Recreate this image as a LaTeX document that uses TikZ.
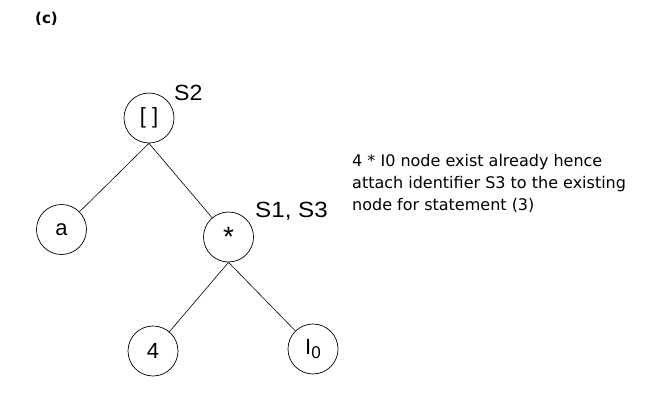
\documentclass[tikz,border=0pt]{standalone}
\usepackage{fontspec}
\setmainfont{Liberation Sans}
\newfontfamily\verd{DejaVu Sans}
\begin{document}
\begin{tikzpicture}[x=1pt,y=-1pt,
  tnode/.style={circle,draw,line width=0.7pt,minimum size=50pt,inner sep=0pt,font=\fontsize{22}{26}\selectfont},
  lbl/.style={anchor=base west,inner sep=0pt,font=\fontsize{22}{26}\selectfont},
  edge/.style={line width=0.6pt}]
\useasboundingbox (0,0) rectangle (650,401);
\node[anchor=base west,inner sep=0pt,font=\verd\bfseries\fontsize{15}{18}\selectfont] (cap) at (35,24) {(c)};
\node[tnode] (br) at (149,118) {[ ]};
\node[tnode] (a) at (61.5,229.5) {a};
\node[tnode,font=\fontsize{28}{30}\selectfont] (mul) at (228.5,237) {\raisebox{-5pt}{*}};
\node[tnode] (four) at (153,351) {4};
\node[tnode] (i0) at (313,349) {I\raisebox{-4pt}{\fontsize{17}{20}\selectfont 0}};
\node[lbl] (s2) at (174,101) {\scalebox{1.05}[1]{S2}};
\node[lbl] (s13) at (255,217) {\scalebox{1.1}[1]{S1, S3}};
\node[anchor=base west,inner sep=0pt,align=left,font=\verd\fontsize{16}{22}\selectfont] (note) at (352,210.7)
  {4 * I0 node exist already hence\\attach identifier S3 to the existing\\node for statement (3)};
\draw[edge] (br.south) -- (a);
\draw[edge] (br.south) -- (mul);
\draw[edge] (mul.south) -- (four);
\draw[edge] (mul.south) -- (i0);
\end{tikzpicture}
\end{document}
